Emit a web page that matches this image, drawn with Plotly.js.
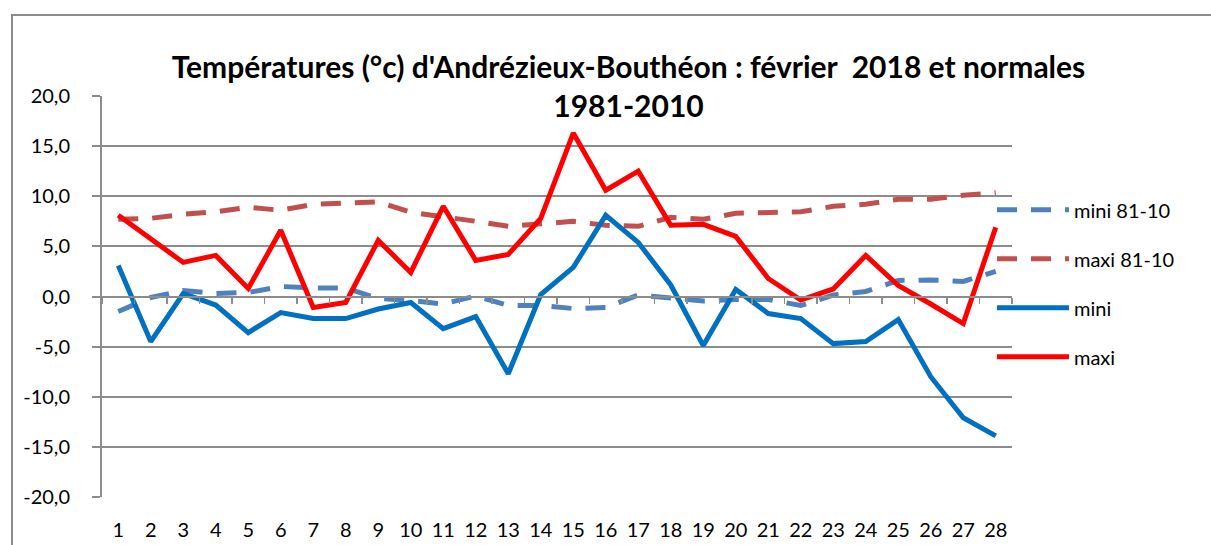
<!DOCTYPE html>
<html>
<head>
<meta charset="utf-8">
<script src="https://cdn.plot.ly/plotly-3.0.1.min.js"></script>
<style>
html,body{margin:0;padding:0;background:#fff;}
#wrap{position:relative;width:1211px;height:545px;overflow:hidden;}
#frame{position:absolute;left:11px;top:14px;width:1300px;height:600px;border:2px solid #8c8c8c;box-sizing:border-box;pointer-events:none;}
#chart{position:absolute;left:0;top:0;width:1211px;height:545px;}
</style>
</head>
<body>
<div id="wrap"><div id="chart"></div><div id="frame"></div></div>
<script>
const days = [1,2,3,4,5,6,7,8,9,10,11,12,13,14,15,16,17,18,19,20,21,22,23,24,25,26,27,28];
const dayLabels = ['1','2','3','4','5','6','7','8','9','10','11','12','13','14','15','16','17','18','19','20','21','22','23','24','25','26','27','28'];
const yTickVals = [-20,-15,-10,-5,0,5,10,15,20];
const yTickLabels = ['-20,0','-15,0','-10,0','-5,0','0,0','5,0','10,0','15,0','20,0'];
const mini8110 = [-1.5,-0.1,0.6,0.3,0.4,1.0,0.85,0.85,-0.2,-0.4,-0.75,0.05,-0.9,-0.9,-1.2,-1.1,0.15,-0.2,-0.45,-0.3,-0.3,-0.9,0.15,0.5,1.6,1.65,1.5,2.5];
const maxi8110 = [7.7,7.8,8.2,8.45,8.9,8.6,9.2,9.3,9.45,8.4,8.0,7.5,7.0,7.3,7.5,7.1,7.0,7.9,7.7,8.3,8.35,8.45,9.0,9.2,9.7,9.7,10.1,10.35];
const mini = [3.1,-4.5,0.3,-0.85,-3.6,-1.6,-2.2,-2.2,-1.25,-0.6,-3.2,-2.0,-7.7,0.2,2.9,8.1,5.4,1.15,-4.9,0.7,-1.7,-2.2,-4.7,-4.5,-2.3,-8.0,-12.1,-13.9];
const maxi = [8.1,5.7,3.4,4.1,0.8,6.6,-1.1,-0.6,5.6,2.4,9.0,3.6,4.2,7.8,16.3,10.6,12.5,7.1,7.2,6.0,1.8,-0.35,0.75,4.1,1.1,-0.75,-2.7,6.9];
const boundaries = [0.5,1.5,2.5,3.5,4.5,5.5,6.5,7.5,8.5,9.5,10.5,11.5,12.5,13.5,14.5,15.5,16.5,17.5,18.5,19.5,20.5,21.5,22.5,23.5,24.5,25.5,26.5,27.5,28.5];

const FONT = 'Lato, Carlito, Calibri, "Open Sans", sans-serif';
const dash = '20px,14px';

const traces = [
  {x: days, y: mini8110, name: 'mini 81-10', mode: 'lines', legendgroup:'a',
   line: {color: '#4F81BD', width: 5, dash: dash}},
  {x: days, y: maxi8110, name: 'maxi 81-10', mode: 'lines', legendgroup:'b',
   line: {color: '#C0504D', width: 5, dash: dash}},
  {x: days, y: mini, name: 'mini', mode: 'lines', legendgroup:'c',
   line: {color: '#0070C0', width: 5}},
  {x: days, y: maxi, name: 'maxi', mode: 'lines', legendgroup:'d',
   line: {color: '#FF0000', width: 5}},
  {x: [days[0]], y: [0], xaxis: 'x2', mode: 'lines', showlegend: false, hoverinfo: 'skip',
   line: {color: 'rgba(0,0,0,0)', width: 0}}
];

const layout = {
  width: 1211, height: 545,
  margin: {l: 102, r: 199, t: 96, b: 48},
  paper_bgcolor: 'rgba(0,0,0,0)', plot_bgcolor: '#fff',
  separators: ', ',
  font: {family: FONT, color: '#000', size: 20},
  title: {
    text: "Températures (°c) d'Andrézieux-Bouthéon : février  2018 et normales<br>1981-2010",
    font: {family: FONT, size: 30, color: '#000', weight: 'bold'},
    x: 0.519, xanchor: 'center', xref: 'container',
    y: 0.856, yanchor: 'top', yref: 'container'
  },
  xaxis: {
    range: [0.5, 28.5], tickmode: 'array', tickvals: days, ticktext: dayLabels,
    showgrid: false, zeroline: false, showline: false, ticks: '',
    tickfont: {family: FONT, size: 20, color: '#000'}, ticklabelstandoff: 19, fixedrange: true
  },
  xaxis2: {
    overlaying: 'x', anchor: 'free', position: 0.5, side: 'bottom',
    range: [0.5, 28.5], tickmode: 'array', tickvals: boundaries,
    ticks: 'outside', ticklen: 6, tickwidth: 1.5, tickcolor: '#8c8c8c',
    showticklabels: false, showgrid: false, zeroline: false,
    showline: true, linecolor: '#8c8c8c', linewidth: 2
  },
  yaxis: {
    range: [-20, 20], tickmode: 'array', tickvals: yTickVals, ticktext: yTickLabels,
    showgrid: true, gridcolor: '#8c8c8c', gridwidth: 2,
    zeroline: false, showline: true, linecolor: '#8c8c8c', linewidth: 2,
    ticks: 'outside', ticklen: 8, tickcolor: '#8c8c8c', tickwidth: 2,
    ticklabelstandoff: 18,
    tickfont: {family: FONT, size: 20, color: '#000'}, fixedrange: true
  },
  legend: {
    x: 0.978, xanchor: 'left', y: 0.765, yanchor: 'top',
    font: {family: FONT, size: 20, color: '#000'},
    traceorder: 'grouped', tracegroupgap: 20, bgcolor: 'rgba(0,0,0,0)',
    itemwidth: 72
  },
  showlegend: true
};

Plotly.newPlot('chart', traces, layout, {displayModeBar: false, staticPlot: true});
</script>
</body>
</html>
